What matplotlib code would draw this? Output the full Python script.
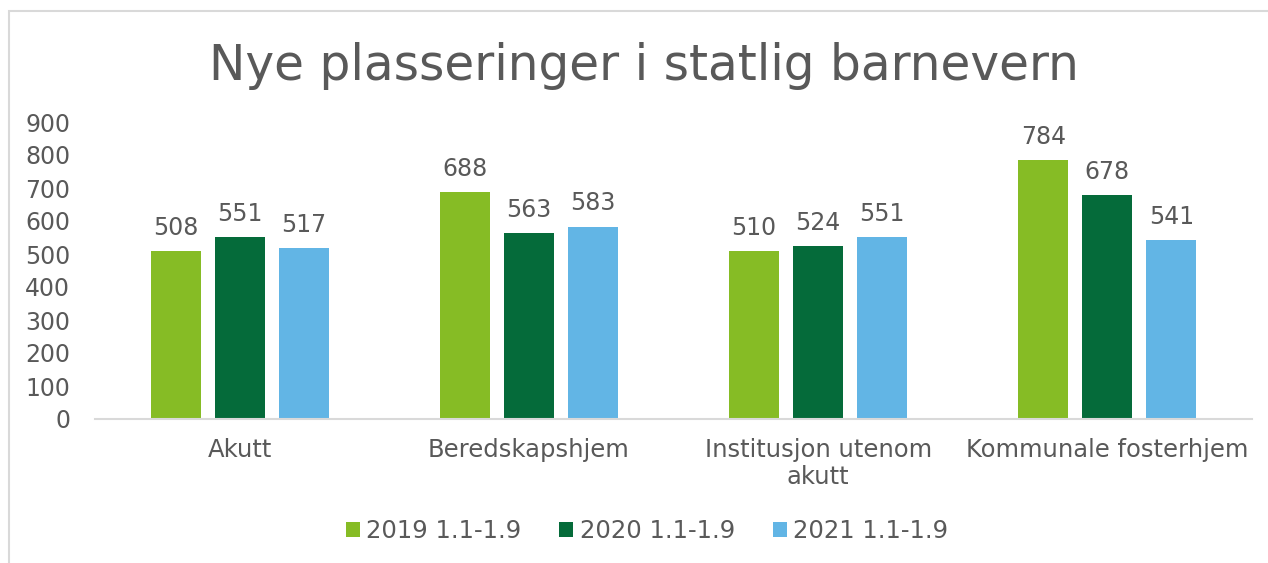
import matplotlib
matplotlib.use("Agg")
import matplotlib.pyplot as plt
import numpy as np
from matplotlib.patches import Rectangle

categories = ["Akutt", "Beredskapshjem", "Institusjon utenom\nakutt", "Kommunale fosterhjem"]
series_names = ["2019 1.1-1.9", "2020 1.1-1.9", "2021 1.1-1.9"]
v2019 = [508, 688, 510, 784]
v2020 = [551, 563, 524, 678]
v2021 = [517, 583, 551, 541]
colors = ["#86BC25", "#056B3A", "#62B5E5"]
yticks = [0, 100, 200, 300, 400, 500, 600, 700, 800, 900]

plt.rcParams['font.family'] = ['DejaVu Sans']
txt = "#595959"

fig = plt.figure(figsize=(12.68, 5.63), dpi=100)
fig.patches.append(Rectangle((9/1268, -0.1), 1.2, (563-11)/563 + 0.1, transform=fig.transFigure,
                             fill=False, edgecolor="#D9D9D9", linewidth=1.5))

ax = fig.add_axes([95/1268, (563-419)/563, (1252-95)/1268, (419-122)/563])
x = np.arange(len(categories))
w = 50/289
step = 64/289
for i, (vals, name, c) in enumerate(zip([v2019, v2020, v2021], series_names, colors)):
    bars = ax.bar(x + (i-1)*step, vals, width=w, color=c, label=name)
    for b, v in zip(bars, vals):
        ax.annotate(str(v), (b.get_x()+b.get_width()/2, v), xytext=(0, 8),
                    textcoords="offset points", ha="center", va="bottom",
                    fontsize=17, color=txt)

ax.set_xlim(-0.5, len(categories)-0.5)
ax.set_ylim(0, 900)
ax.set_yticks(yticks)
ax.set_yticklabels([str(t) for t in yticks], fontsize=17, color=txt)
ax.set_xticks(x)
ax.set_xticklabels(categories, fontsize=17.5, color=txt, linespacing=1.15)
ax.tick_params(axis="both", length=0)
ax.tick_params(axis="y", pad=18)
ax.tick_params(axis="x", pad=14)
for s in ["top", "right", "left"]:
    ax.spines[s].set_visible(False)
ax.spines["bottom"].set_color("#D9D9D9")
ax.spines["bottom"].set_linewidth(1.5)

fig.text(644/1268, 1 - 66/563, "Nye plasseringer i statlig barnevern", ha="center", va="center",
         fontsize=35, color=txt)

leg = fig.legend(loc="center", bbox_to_anchor=(647/1268, 1 - 531/563), ncol=3, frameon=False,
                 fontsize=17.5, handlelength=0.58, handleheight=0.58, handletextpad=0.25,
                 columnspacing=1.56, labelcolor=txt)

fig.savefig("out.png", dpi=100)
